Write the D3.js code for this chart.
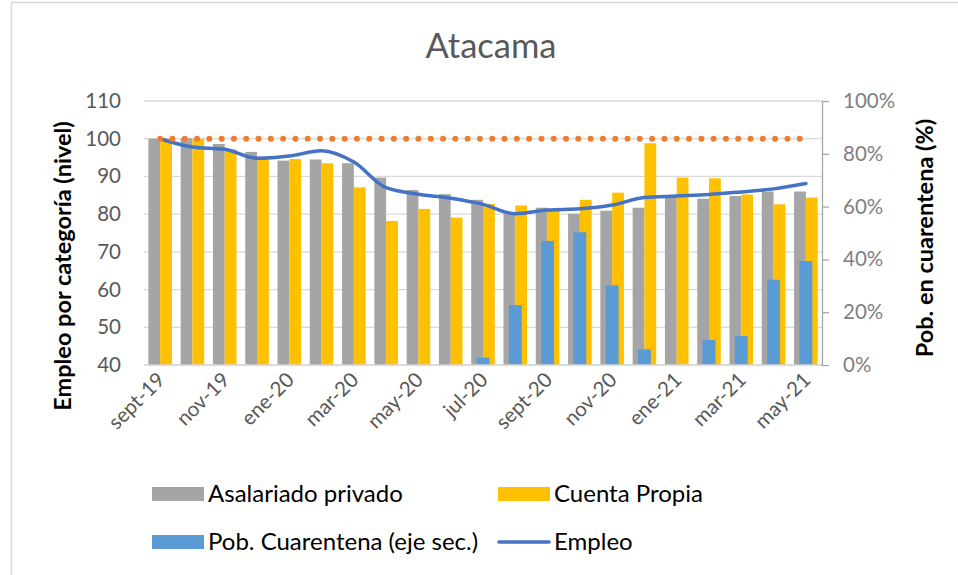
<!DOCTYPE html>
<html lang="es">
<head>
<meta charset="UTF-8">
<title>Atacama</title>
<script src="https://d3js.org/d3.v7.min.js"></script>
<style>
	body { margin: 0; background: #fff; }
	svg { display: block; font-family: Lato, "Open Sans", sans-serif; }
	.grid line { stroke: #d9d9d9; stroke-width: 1.3px; }
</style>
</head>
<body>
<script>
	// meses (categorias del eje x)
	var months = ["sept-19", "oct-19", "nov-19", "dic-19", "ene-20", "feb-20", "mar-20",
		"abr-20", "may-20", "jun-20", "jul-20", "ago-20", "sept-20", "oct-20", "nov-20",
		"dic-20", "ene-21", "feb-21", "mar-21", "abr-21", "may-21"];
	var shownMonths = ["sept-19", "nov-19", "ene-20", "mar-20", "may-20", "jul-20",
		"sept-20", "nov-20", "ene-21", "mar-21", "may-21"];

	var asalariado = [100, 100.1, 98.6, 96.5, 94.2, 94.5, 93.5, 89.7, 86.4, 85.3, 83.8,
		80.2, 81.7, 80.1, 80.9, 81.7, 84.6, 84.1, 84.8, 86.0, 86.0];
	var cuentaPropia = [100, 100, 97.2, 94.6, 94.6, 93.5, 87.1, 78.2, 81.4, 79.1, 82.7,
		82.3, 81.1, 83.8, 85.7, 98.8, 89.7, 89.5, 85.2, 82.6, 84.4];
	// % de poblacion en cuarentena (eje secundario)
	var cuarentena = [0, 0, 0, 0, 0, 0, 0, 0, 0, 0, 2.8,
		22.7, 47.0, 50.3, 30.2, 5.9, 0, 9.5, 11.0, 32.3, 39.4];
	var empleo = [100, 97.8, 97.2, 94.8, 95.4, 96.8, 93.8, 87.0, 85.3, 84.2, 82.6,
		80.1, 81.1, 81.4, 82.4, 84.4, 84.8, 85.2, 85.9, 86.7, 88.1];
	var base100 = [100, 100, 100, 100, 100, 100, 100, 100, 100, 100, 100,
		100, 100, 100, 100, 100, 100, 100, 100, 100, 100];

	var leftTicks = [40, 50, 60, 70, 80, 90, 100, 110];
	var rightTicks = [0, 20, 40, 60, 80, 100];

	var W = 958, H = 575;
	var plot = { left: 144, right: 822, top: 101, bottom: 365 };

	var svg = d3.select("body").append("svg")
		.attr("width", W)
		.attr("height", H);

	// marco del grafico
	svg.append("rect")
		.attr("x", 11.5).attr("y", 2.5)
		.attr("width", W + 10).attr("height", H + 10)
		.attr("fill", "none")
		.attr("stroke", "#d9d9d9")
		.attr("stroke-width", 1.5);

	var x = d3.scaleBand()
		.domain(months)
		.range([plot.left, plot.right]);

	var y = d3.scaleLinear()
		.domain([40, 110])
		.range([plot.bottom, plot.top]);

	var y2 = d3.scaleLinear()
		.domain([0, 100])
		.range([plot.bottom, plot.top]);

	var bw = x.bandwidth();
	var barW = bw * 0.365;
	var groupOff = bw * 0.135;
	var blueW = bw * 0.40;

	// lineas de grilla
	svg.append("g")
		.attr("class", "grid")
		.selectAll("line")
		.data(leftTicks)
		.enter().append("line")
		.attr("x1", plot.left)
		.attr("x2", plot.right)
		.attr("y1", function (d) { return y(d); })
		.attr("y2", function (d) { return y(d); });

	// barras asalariado privado
	svg.append("g").selectAll("rect")
		.data(asalariado)
		.enter().append("rect")
		.attr("x", function (d, i) { return x(months[i]) + groupOff; })
		.attr("y", function (d) { return y(d); })
		.attr("width", barW)
		.attr("height", function (d) { return y(40) - y(d); })
		.attr("fill", "#a5a5a5");

	// barras cuenta propia
	svg.append("g").selectAll("rect")
		.data(cuentaPropia)
		.enter().append("rect")
		.attr("x", function (d, i) { return x(months[i]) + groupOff + barW; })
		.attr("y", function (d) { return y(d); })
		.attr("width", barW)
		.attr("height", function (d) { return y(40) - y(d); })
		.attr("fill", "#ffc000");

	// barras cuarentena (eje sec.)
	svg.append("g").selectAll("rect")
		.data(cuarentena)
		.enter().append("rect")
		.attr("x", function (d, i) { return x(months[i]) + (bw - blueW) / 2; })
		.attr("y", function (d) { return y2(d); })
		.attr("width", blueW)
		.attr("height", function (d) { return y2(0) - y2(d); })
		.attr("fill", "#5b9bd5");

	// linea base (eje x)
	svg.append("line")
		.attr("x1", plot.left).attr("x2", plot.right)
		.attr("y1", y(40)).attr("y2", y(40))
		.attr("stroke", "#d9d9d9")
		.attr("stroke-width", 1.5);

	var cx = function (d, i) { return x(months[i]) + bw / 2; };

	// linea empleo
	svg.append("path")
		.datum(empleo)
		.attr("fill", "none")
		.attr("stroke", "#4472c4")
		.attr("stroke-width", 3.5)
		.attr("stroke-linejoin", "round")
		.attr("stroke-linecap", "round")
		.attr("d", d3.line()
			.x(cx)
			.y(function (d) { return y(d); })
			.curve(d3.curveMonotoneX));

	// linea punteada en 100
	svg.append("path")
		.datum(base100)
		.attr("fill", "none")
		.attr("stroke", "#ed7d31")
		.attr("stroke-width", 6)
		.attr("stroke-linecap", "round")
		.attr("stroke-dasharray", "0 12.3")
		.attr("d", d3.line()
			.x(cx)
			.y(function (d) { return y(d); }));

	// eje izquierdo
	var leftAxis = svg.append("g")
		.attr("transform", "translate(" + (plot.left - 23) + ",0)")
		.call(d3.axisLeft(y).tickValues(leftTicks).tickSize(0).tickPadding(0));
	leftAxis.select(".domain").remove();
	leftAxis.selectAll("text")
		.attr("fill", "#595959")
		.style("font-size", "20.5px")
		.style("font-family", "Lato, sans-serif");

	// eje derecho
	var rightAxis = svg.append("g")
		.attr("transform", "translate(" + plot.right + ",0)")
		.call(d3.axisRight(y2).tickValues(rightTicks).tickSize(7).tickPadding(14)
			.tickSizeOuter(0)
			.tickFormat(function (d) { return d + "%"; }));
	rightAxis.select(".domain").attr("stroke", "#a6a6a6").attr("stroke-width", 1.3);
	rightAxis.selectAll("line").attr("stroke", "#a6a6a6").attr("stroke-width", 1.3);
	rightAxis.selectAll("text")
		.attr("fill", "#7f7f7f")
		.style("font-size", "20.5px")
		.style("font-family", "Lato, sans-serif");

	// etiquetas del eje x
	svg.append("g").selectAll("text")
		.data(shownMonths)
		.enter().append("text")
		.attr("transform", function (d) {
			return "translate(" + (x(d) + bw / 2 + 1) + "," + (plot.bottom + 11) + ") rotate(-45)";
		})
		.attr("text-anchor", "end")
		.attr("dy", "0.35em")
		.attr("fill", "#595959")
		.style("font-size", "20.5px")
		.text(function (d) { return d; });

	// titulo
	svg.append("text")
		.attr("x", 491).attr("y", 58)
		.attr("text-anchor", "middle")
		.attr("fill", "#595959")
		.style("font-size", "34.5px")
		.text("Atacama");

	// titulos de ejes
	svg.append("text")
		.attr("transform", "translate(71,266) rotate(-90)")
		.attr("text-anchor", "middle")
		.attr("fill", "#000")
		.style("font-size", "23.5px")
		.style("font-weight", "bold")
		.text("Empleo por categoría (nivel)");

	svg.append("text")
		.attr("transform", "translate(933,238) rotate(-90)")
		.attr("text-anchor", "middle")
		.attr("fill", "#000")
		.style("font-size", "23.5px")
		.style("font-weight", "bold")
		.text("Pob. en cuarentena (%)");

	// leyenda
	var legendItems = [
		{ name: "Asalariado privado", color: "#a5a5a5", type: "bar", x: 152, y: 494 },
		{ name: "Cuenta Propia", color: "#ffc000", type: "bar", x: 498, y: 494 },
		{ name: "Pob. Cuarentena (eje sec.)", color: "#5b9bd5", type: "bar", x: 152, y: 542 },
		{ name: "Empleo", color: "#4472c4", type: "line", x: 498, y: 542 }
	];

	var legend = svg.append("g").selectAll("g")
		.data(legendItems)
		.enter().append("g")
		.attr("transform", function (d) { return "translate(" + d.x + "," + d.y + ")"; });

	legend.each(function (d) {
		var g = d3.select(this);
		if (d.type === "bar") {
			g.append("rect")
				.attr("x", 0).attr("y", -7)
				.attr("width", 52).attr("height", 14)
				.attr("fill", d.color);
		} else {
			g.append("line")
				.attr("x1", 1).attr("x2", 51)
				.attr("y1", 0).attr("y2", 0)
				.attr("stroke", d.color)
				.attr("stroke-width", 3.5)
				.attr("stroke-linecap", "round");
		}
		g.append("text")
			.attr("x", 56)
			.attr("dy", "0.35em")
			.attr("fill", "#000")
			.style("font-size", "24px")
			.text(d.name);
	});
</script>
</body>
</html>
